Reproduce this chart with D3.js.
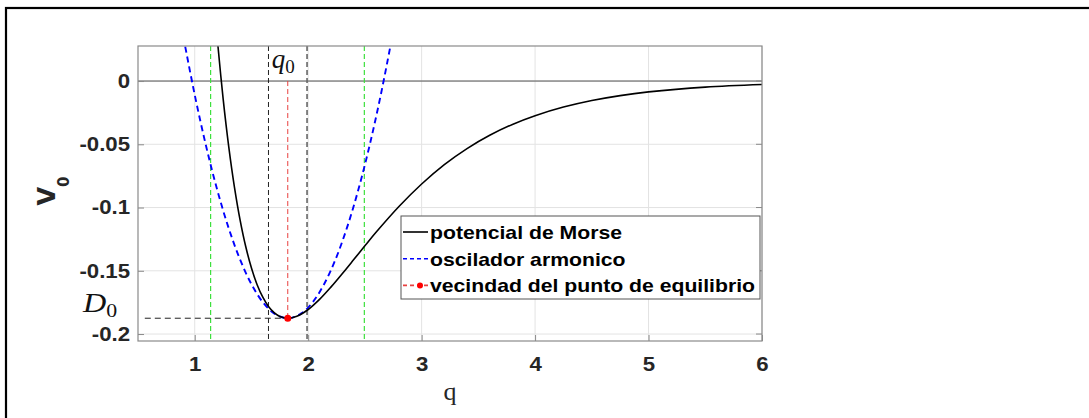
<!DOCTYPE html>
<html>
<head>
<meta charset="utf-8">
<script src="https://cdn.jsdelivr.net/npm/d3@7"></script>
<style>
  body { margin: 0; background: #fff; }
  svg { display: block; }
</style>
</head>
<body>
<div id="dataviz"></div>
<script>
// values
const morseQ = [1.19, 1.20, 1.25, 1.30, 1.35, 1.40, 1.45, 1.50, 1.55, 1.60, 1.65, 1.70, 1.75, 1.82, 1.90, 2.00, 2.10, 2.20, 2.30, 2.40, 2.50, 2.60, 2.80, 3.00, 3.20, 3.40, 3.60, 3.80, 4.00, 4.25, 4.50, 4.75, 5.00, 5.50, 6.00];
const morseV = [0.0423, 0.0321, -0.0137, -0.0520, -0.0838, -0.1099, -0.1310, -0.1478, -0.1610, -0.1709, -0.1782, -0.1831, -0.1861, -0.1875, -0.1860, -0.1806, -0.1726, -0.1629, -0.1523, -0.1413, -0.1302, -0.1194, -0.0992, -0.0814, -0.0661, -0.0534, -0.0429, -0.0343, -0.0274, -0.0206, -0.0154, -0.0115, -0.0086, -0.0048, -0.0027];

const oscQ = [0.90, 1.00, 1.10, 1.20, 1.30, 1.40, 1.50, 1.60, 1.70, 1.82, 1.94, 2.04, 2.14, 2.24, 2.34, 2.44, 2.54, 2.64, 2.74];
const oscV = [0.0348, -0.0109, -0.0514, -0.0866, -0.1165, -0.1412, -0.1606, -0.1748, -0.1837, -0.1875, -0.1837, -0.1748, -0.1606, -0.1412, -0.1165, -0.0866, -0.0514, -0.0109, 0.0348];

const q0 = 1.82;
const D0 = -0.1875;
const greenLines = [1.14, 2.495];
const blackLines = [1.65, 1.99];
const dLineStart = 0.56;

const xTicks = [1, 2, 3, 4, 5, 6];
const yTicks = [0, -0.05, -0.1, -0.15, -0.2];
const yTickLabels = ["0", "-0.05", "-0.1", "-0.15", "-0.2"];
const legendNames = ["potencial de Morse", "oscilador armonico", "vecindad del punto de equilibrio"];

const W = 1089, H = 418;
const margin = {top: 46, right: 327, bottom: 77, left: 138},
    width = W - margin.left - margin.right,
    height = H - margin.top - margin.bottom;

// the picture is a bit wider than tall fonts would give
const stretch = 1.14;

let root = d3.select("#dataviz")
    .append("svg")
    .attr("width", W)
    .attr("height", H);

// figure frame
root.append("rect")
    .attr("x", 6).attr("y", 8)
    .attr("width", W + 20).attr("height", H + 20)
    .attr("fill", "none").attr("stroke", "#000").attr("stroke-width", 2.2);

let svg = root.append("g")
    .attr("transform", `translate(${margin.left}, ${margin.top})`);

const xScale = d3.scaleLinear().domain([0.5, 6]).range([0, width]);
const yScale = d3.scaleLinear().domain([-0.2055, 0.0277]).range([height, 0]);

svg.append("defs").append("clipPath").attr("id", "clip")
    .append("rect").attr("width", width).attr("height", height);

// grid
svg.append("g")
    .selectAll("line")
    .data(xTicks)
    .join("line")
    .attr("x1", d => xScale(d)).attr("x2", d => xScale(d))
    .attr("y1", 0).attr("y2", height)
    .attr("stroke", "#e3e3e3").attr("stroke-width", 1);
svg.append("g")
    .selectAll("line")
    .data(yTicks)
    .join("line")
    .attr("x1", 0).attr("x2", width)
    .attr("y1", d => yScale(d)).attr("y2", d => yScale(d))
    .attr("stroke", "#e3e3e3").attr("stroke-width", 1);

let plot = svg.append("g").attr("clip-path", "url(#clip)");

// zero line
plot.append("line")
    .attr("x1", 0).attr("x2", width)
    .attr("y1", yScale(0)).attr("y2", yScale(0))
    .attr("stroke", "#555").attr("stroke-width", 1);

// green and black dashed verticals
plot.selectAll("line.green")
    .data(greenLines)
    .join("line")
    .attr("class", "green")
    .attr("x1", d => xScale(d)).attr("x2", d => xScale(d))
    .attr("y1", 0).attr("y2", height)
    .attr("stroke", "#3ee03e").attr("stroke-width", 1.2)
    .attr("stroke-dasharray", "5,3");

plot.selectAll("line.blk")
    .data(blackLines)
    .join("line")
    .attr("class", "blk")
    .attr("x1", d => xScale(d)).attr("x2", d => xScale(d))
    .attr("y1", 0).attr("y2", height)
    .attr("stroke", (d, i) => i === 0 ? "#222" : "#666")
    .attr("stroke-width", (d, i) => i === 0 ? 1 : 1.6)
    .attr("stroke-dasharray", "5,3");

// D0 horizontal
plot.append("line")
    .attr("x1", xScale(dLineStart)).attr("x2", xScale(q0))
    .attr("y1", yScale(D0)).attr("y2", yScale(D0))
    .attr("stroke", "#222").attr("stroke-width", 1)
    .attr("stroke-dasharray", "6,4");

// red vertical at q0
plot.append("line")
    .attr("x1", xScale(q0)).attr("x2", xScale(q0))
    .attr("y1", yScale(0)).attr("y2", yScale(D0))
    .attr("stroke", "#e8403f").attr("stroke-width", 1)
    .attr("stroke-dasharray", "5,3");

const line = d3.line()
    .x(d => xScale(d[0]))
    .y(d => yScale(d[1]))
    .curve(d3.curveCatmullRom);

plot.append("path")
    .datum(oscQ.map((q, i) => [q, oscV[i]]))
    .attr("d", line)
    .attr("fill", "none").attr("stroke", "#0000ff").attr("stroke-width", 1.9)
    .attr("stroke-dasharray", "6,4");

plot.append("path")
    .datum(morseQ.map((q, i) => [q, morseV[i]]))
    .attr("d", line)
    .attr("fill", "none").attr("stroke", "#000").attr("stroke-width", 1.6);

svg.append("circle")
    .attr("cx", xScale(q0)).attr("cy", yScale(D0))
    .attr("r", 3.5).attr("fill", "#ff0000");

// axes box + ticks
const axisCol = "#8a8a8a";
svg.append("rect")
    .attr("width", width).attr("height", height)
    .attr("fill", "none").attr("stroke", axisCol).attr("stroke-width", 1.2);

const tickFont = g => g.selectAll("text")
    .attr("font-family", "Liberation Sans, Arial, sans-serif").attr("font-weight", "bold")
    .attr("font-size", 19.5).attr("fill", "#262626");

svg.append("g")
    .attr("transform", `translate(0, ${height})`)
    .call(d3.axisBottom(xScale).tickValues(xTicks).tickSizeInner(-6).tickSizeOuter(0).tickPadding(16).tickFormat(d3.format("d")))
    .call(g => g.select(".domain").remove())
    .call(g => g.selectAll("line").attr("stroke", axisCol))
    .call(tickFont)
    .call(g => g.selectAll("text").attr("transform", `scale(${stretch},1)`));

svg.append("g")
    .call(d3.axisLeft(yScale).tickValues(yTicks).tickSizeInner(-6).tickSizeOuter(0).tickPadding(8)
        .tickFormat((d, i) => yTickLabels[i]))
    .call(g => g.select(".domain").remove())
    .call(g => g.selectAll("line").attr("stroke", axisCol))
    .call(tickFont)
    .call(g => g.selectAll("text").attr("x", -8 / stretch).attr("transform", `scale(${stretch},1)`));

// right side ticks
svg.append("g")
    .selectAll("line")
    .data(yTicks)
    .join("line")
    .attr("x1", width - 6).attr("x2", width)
    .attr("y1", d => yScale(d)).attr("y2", d => yScale(d))
    .attr("stroke", axisCol);

// labels
svg.append("text")
    .attr("x", width / 2).attr("y", height + 59)
    .attr("text-anchor", "middle")
    .attr("font-family", "Liberation Serif").attr("font-size", 26)
    .attr("fill", "#262626")
    .text("q");

let ylab = root.append("text")
    .attr("transform", "translate(55, 191) rotate(-90)")
    .attr("text-anchor", "middle")
    .attr("font-family", "DejaVu Sans").attr("font-weight", "bold")
    .attr("font-size", 24).attr("fill", "#262626");
ylab.append("tspan").text("V");
ylab.append("tspan").attr("font-size", 15).attr("dy", 14).text("0");

let q0lab = svg.append("text")
    .attr("x", xScale(q0) - 16).attr("y", 22)
    .attr("font-family", "Liberation Serif").attr("font-size", 27)
    .attr("fill", "#111");
q0lab.append("tspan").attr("font-style", "italic").text("q");
q0lab.append("tspan").attr("font-size", 19).attr("dy", 5).text("0");

let d0lab = root.append("text")
    .attr("transform", `translate(83, 312) scale(1.15,1)`)
    .attr("font-family", "Liberation Serif").attr("font-size", 28)
    .attr("fill", "#111");
d0lab.append("tspan").attr("font-style", "italic").text("D");
d0lab.append("tspan").attr("font-size", 19).attr("dy", 5).text("0");

// legend
const legX = 401, legY = 216, legW = 359, legH = 83, rowH = 26.7;
let leg = root.append("g");
leg.append("rect")
    .attr("x", legX).attr("y", legY).attr("width", legW).attr("height", legH)
    .attr("fill", "#fff").attr("stroke", "#555").attr("stroke-width", 1);

const legStroke = ["#000", "#0000ff", "#e8403f"];
const legDash = [null, "4,3", "4,3"];
leg.selectAll("line")
    .data(legendNames)
    .join("line")
    .attr("x1", legX + 2).attr("x2", legX + 27)
    .attr("y1", (d, i) => legY + 16 + i * rowH).attr("y2", (d, i) => legY + 16 + i * rowH)
    .attr("stroke", (d, i) => legStroke[i])
    .attr("stroke-width", 1.6)
    .attr("stroke-dasharray", (d, i) => legDash[i]);
leg.append("circle")
    .attr("cx", legX + 19).attr("cy", legY + 16 + 2 * rowH)
    .attr("r", 3).attr("fill", "#ff0000");
leg.selectAll("text")
    .data(legendNames)
    .join("text")
    .attr("transform", (d, i) => `translate(${legX + 29}, ${legY + 23 + i * rowH}) scale(${stretch},1)`)
    .attr("font-family", "Liberation Sans, Arial, sans-serif").attr("font-weight", "bold")
    .attr("font-size", 18.6).attr("fill", "#000")
    .text(d => d);
</script>
</body>
</html>
